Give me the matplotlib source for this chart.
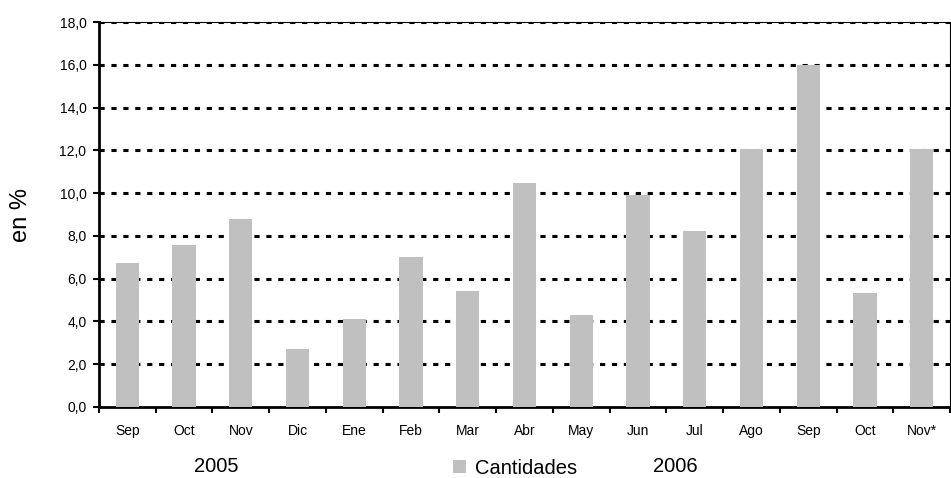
import matplotlib.pyplot as plt
import numpy as np

plt.rcParams['font.family'] = ['Liberation Sans', 'DejaVu Sans']

meses = ['Sep', 'Oct', 'Nov', 'Dic', 'Ene', 'Feb', 'Mar', 'Abr', 'May',
         'Jun', 'Jul', 'Ago', 'Sep', 'Oct', 'Nov*']
cantidades = [6.75, 7.57, 8.78, 2.71, 4.11, 7.01, 5.42, 10.47, 4.30,
              9.90, 8.22, 12.05, 15.98, 5.33, 12.05]
yticks = np.arange(0, 18.1, 2)

fig = plt.figure(figsize=(9.51, 4.78), dpi=100)
ax = fig.add_axes([99/951, 1 - 407/478, 851/951, 385/478])

x = np.arange(len(meses))
ax.bar(x, cantidades, width=0.41, color='#c0c0c0', edgecolor='none',
       zorder=3, label='Cantidades')

ax.set_xlim(-0.5, len(meses) - 0.5)
ax.set_ylim(0, 18)
ax.set_yticks(yticks)
ax.set_yticklabels([('%.1f' % v).replace('.', ',') for v in yticks], fontsize=10)

# dotted gridlines
for v in yticks[1:]:
    ax.axhline(v, color='black', lw=2.2, linestyle=(0, (1.7, 2.2)), zorder=2)

ax.set_xticks(x)
ax.set_xticklabels(meses, fontsize=10)
ax.tick_params(axis='x', length=0, pad=12)
ax.set_xticks(np.arange(-0.5, len(meses), 1), minor=True)
ax.tick_params(axis='x', which='minor', length=4, width=1.5, direction='out')
ax.tick_params(axis='y', length=4, width=1.5, direction='out', pad=5)

ax.spines['left'].set_linewidth(2)
ax.spines['bottom'].set_linewidth(2)
ax.spines['right'].set_linewidth(0.8)
ax.spines['top'].set_linewidth(0.8)

ax.set_ylabel('en %', fontsize=17, labelpad=20)

fig.text(216/951, 1 - 467/478, '2005', fontsize=14.5, ha='center', va='center')
fig.text(675/951, 1 - 467/478, '2006', fontsize=14.5, ha='center', va='center')
ax.legend(loc='center', bbox_to_anchor=(515/951, 1 - 468/478),
          bbox_transform=fig.transFigure, frameon=False, fontsize=14.5,
          handlelength=0.65, handleheight=0.65, handletextpad=0.4,
          borderpad=0, borderaxespad=0)

fig.savefig('out.png', dpi=100)
